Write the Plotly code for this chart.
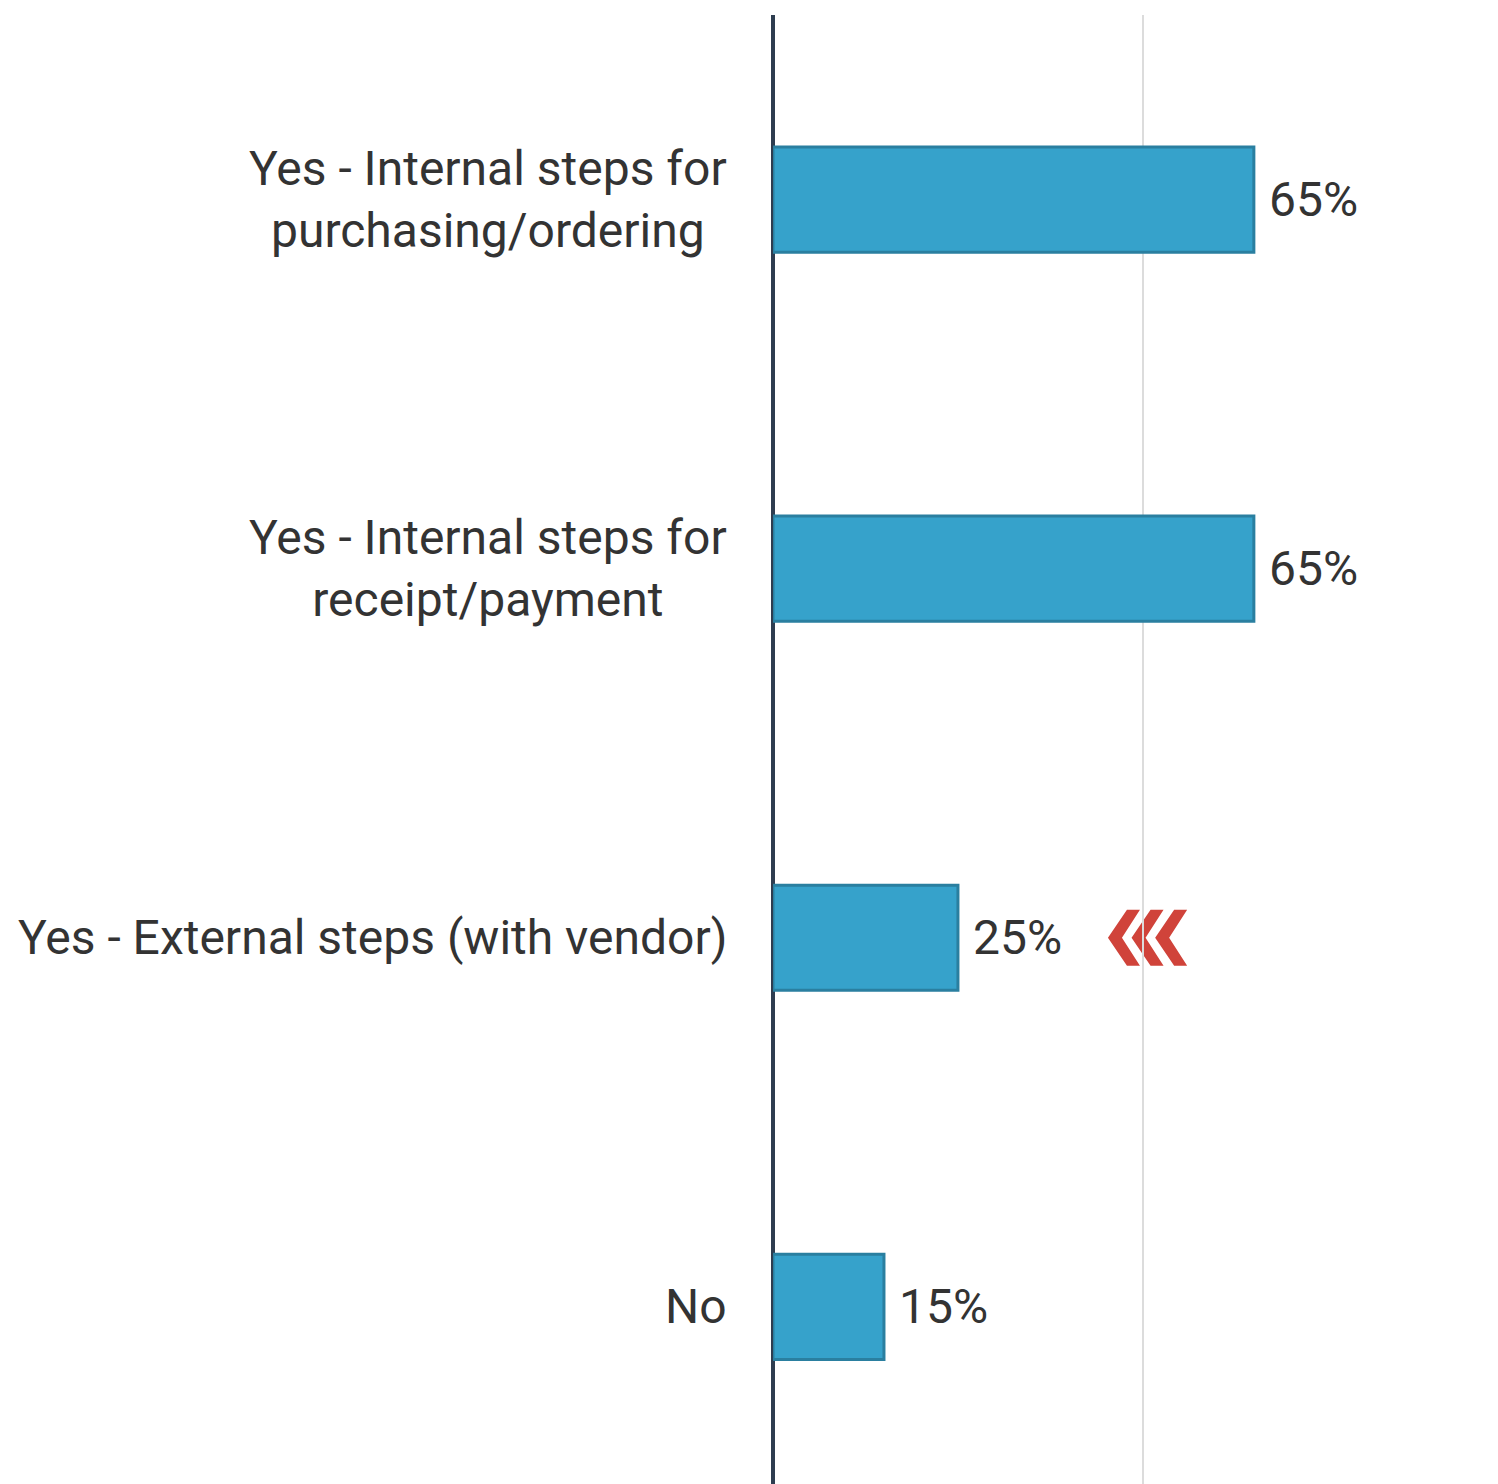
import plotly.graph_objects as go

# Survey responses (share of respondents, %)
categories = [
    "Yes - Internal steps for<br>purchasing/ordering",
    "Yes - Internal steps for<br>receipt/payment",
    "Yes - External steps (with vendor)",
    "No",
]
values = [65, 65, 25, 15]
value_labels = ["65%", "65%", "25%", "15%"]
highlight_index = 2  # row flagged with the red chevrons

BAR_FILL = "#36a2cb"
BAR_EDGE = "#2a7fa0"
TEXT = "#333333"
FONT = "Roboto"
FONT_SIZE = 48

idx = list(range(len(categories)))

fig = go.Figure(
    go.Bar(
        x=values,
        y=idx,
        orientation="h",
        width=0.285,
        marker=dict(color=BAR_FILL, line=dict(color=BAR_EDGE, width=3)),
        hoverinfo="skip",
    )
)

annotations = []
# Category labels, centered line by line, to the left of the axis
for i, cat in enumerate(categories):
    annotations.append(dict(
        x=0, y=i, xref="x", yref="y",
        xanchor="right", yanchor="middle", xshift=-44,
        text=cat, align="center", showarrow=False,
        font=dict(family=FONT, size=FONT_SIZE, color=TEXT),
    ))
# Value labels at the end of each bar
for i, (v, lab) in enumerate(zip(values, value_labels)):
    annotations.append(dict(
        x=v, y=i, xref="x", yref="y",
        xanchor="left", yanchor="middle", xshift=13,
        text=lab, showarrow=False,
        font=dict(family=FONT, size=FONT_SIZE, color=TEXT),
    ))

# Three red chevrons pointing back at the highlighted bar
shapes = []
for k in range(3):
    o = 150 + k * 23.6
    path = (
        f"M {o},0 L {o + 19},28 L {o + 32},28 L {o + 14},0 "
        f"L {o + 32},-28 L {o + 19},-28 Z"
    )
    shapes.append(dict(
        type="path", path=path,
        xref="x", yref="y",
        xsizemode="pixel", ysizemode="pixel",
        xanchor=values[highlight_index], yanchor=highlight_index,
        fillcolor="#d0433a", line=dict(width=0),
        layer="below",
    ))

fig.update_layout(
    width=1498, height=1484,
    margin=dict(l=773, r=0, t=15, b=0),
    paper_bgcolor="white", plot_bgcolor="white",
    showlegend=False,
    annotations=annotations,
    shapes=shapes,
    xaxis=dict(
        range=[0, 98], dtick=50, showticklabels=False,
        showgrid=True, gridcolor="#dcdcdc", gridwidth=2,
        zeroline=True, zerolinecolor="#2e3d50", zerolinewidth=4,
        showline=False, fixedrange=True,
    ),
    yaxis=dict(
        range=[3.48, -0.5], showticklabels=False, showgrid=False,
        zeroline=False, showline=False, fixedrange=True,
    ),
)

fig.write_html("out.html")
